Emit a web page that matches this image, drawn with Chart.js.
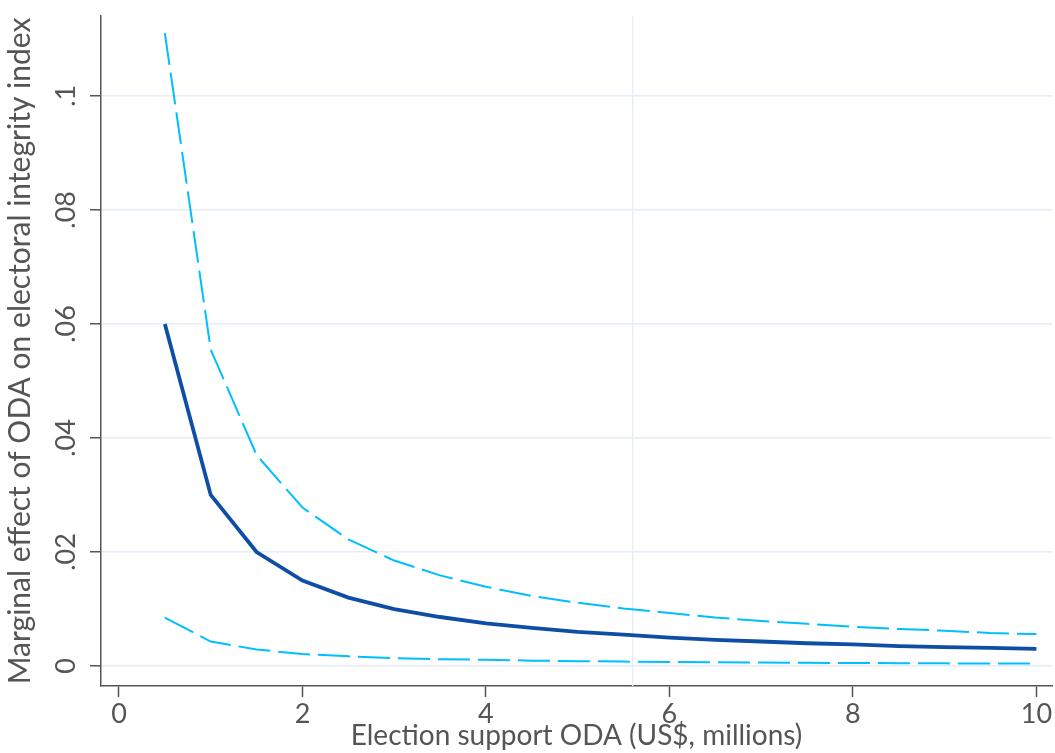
<!DOCTYPE html>
<html>
<head>
<meta charset="utf-8">
<script src="https://cdn.jsdelivr.net/npm/chart.js@4"></script>
<style>
  html, body { margin: 0; padding: 0; background: #fff; }
  #wrap { width: 1055px; height: 753px; }
</style>
</head>
<body>
<div id="wrap"><canvas id="meChart"></canvas></div>
<script>
// Data
const odaX = [0.5, 1, 1.5, 2, 2.5, 3, 3.5, 4, 4.5, 5, 5.5, 6, 6.5, 7, 7.5, 8, 8.5, 9, 9.5, 10];
const effect = [0.06, 0.03, 0.02, 0.015, 0.012, 0.01, 0.0086, 0.0075, 0.0067, 0.006,
  0.0055, 0.005, 0.0046, 0.0043, 0.004, 0.0038, 0.0035, 0.0033, 0.0032, 0.003];
const upperCI = [0.111, 0.0555, 0.037, 0.0278, 0.0222, 0.0185, 0.0159, 0.0139, 0.0123, 0.0111,
  0.0101, 0.0093, 0.0085, 0.0079, 0.0074, 0.0069, 0.0065, 0.0062, 0.0058, 0.0056];
const lowerCI = [0.0085, 0.0043, 0.0029, 0.0021, 0.0017, 0.0014, 0.0012, 0.0011, 0.00095, 0.00085,
  0.00078, 0.00071, 0.00066, 0.00061, 0.00057, 0.00053, 0.0005, 0.00047, 0.00045, 0.00043];
const xTicks = [0, 2, 4, 6, 8, 10];
const yTicks = [0, 0.02, 0.04, 0.06, 0.08, 0.1];
const yTickLabels = ['0', '.02', '.04', '.06', '.08', '.1'];
const refLineX = 5.6;

const axisGray = '#555555';
const gridBlue = '#e5eef8';

const toPoints = arr => arr.map((v, i) => ({ x: odaX[i], y: v }));

// vertical reference line
const refLine = {
  id: 'refLine',
  beforeDatasetsDraw(chart) {
    const { ctx, chartArea, scales } = chart;
    const px = scales.x.getPixelForValue(refLineX);
    ctx.save();
    ctx.strokeStyle = gridBlue;
    ctx.lineWidth = 1.5;
    ctx.beginPath();
    ctx.moveTo(px, chartArea.top);
    ctx.lineTo(px, chartArea.bottom);
    ctx.stroke();
    ctx.restore();
  }
};

new Chart(document.getElementById('meChart'), {
  type: 'line',
  data: {
    datasets: [{
      label: 'Upper',
      data: toPoints(upperCI),
      borderColor: '#00bfff',
      borderWidth: 2,
      borderDash: [32, 8],
      pointRadius: 0,
      tension: 0
    }, {
      label: 'Marginal effect',
      data: toPoints(effect),
      borderColor: '#0e4fa5',
      borderWidth: 3.8,
      pointRadius: 0,
      tension: 0
    }, {
      label: 'Lower',
      data: toPoints(lowerCI),
      borderColor: '#00bfff',
      borderWidth: 2,
      borderDash: [32, 8],
      pointRadius: 0,
      tension: 0
    }]
  },
  options: {
    responsive: true,
    maintainAspectRatio: false,
    animation: false,
    layout: { padding: { top: 16, right: 3, left: 0, bottom: 0 } },
    plugins: {
      legend: { display: false },
      tooltip: { enabled: false }
    },
    scales: {
      x: {
        type: 'linear',
        min: -0.196,
        max: 10.17,
        afterBuildTicks: s => { s.ticks = xTicks.map(v => ({ value: v })); },
        afterFit: s => { s.height = 67; s.paddingLeft = 0; s.paddingRight = 0; },
        grid: { drawOnChartArea: false, drawTicks: true, tickLength: 11, tickColor: axisGray, tickWidth: 1.5 },
        border: { display: true, color: axisGray, width: 1.5 },
        ticks: {
          color: axisGray,
          font: { family: 'Lato', size: 27 },
          padding: 1,
          maxRotation: 0,
          callback: v => String(v)
        },
        title: {
          display: true,
          text: 'Election support ODA (US$, millions)',
          color: axisGray,
          font: { family: 'Lato', size: 28 },
          padding: { top: 0, bottom: 0 }
        }
      },
      y: {
        type: 'linear',
        min: -0.0035,
        max: 0.114,
        afterBuildTicks: s => { s.ticks = yTicks.map(v => ({ value: v })); },
        afterFit: s => { s.width = 101; s.paddingTop = 0; s.paddingBottom = 0; },
        grid: { color: gridBlue, lineWidth: 1.5, drawTicks: true, tickLength: 11, tickColor: axisGray, tickWidth: 1.5 },
        border: { display: true, color: axisGray, width: 1.5 },
        ticks: {
          color: axisGray,
          font: { family: 'Lato', size: 27 },
          padding: 5,
          minRotation: 90,
          maxRotation: 90,
          crossAlign: 'center',
          callback: v => {
            const i = yTicks.indexOf(v);
            return i >= 0 ? yTickLabels[i] : '';
          }
        },
        title: {
          display: true,
          text: 'Marginal effect of ODA on electoral integrity index',
          color: axisGray,
          font: { family: 'Lato', size: 30 },
          padding: { top: 2, bottom: 0 }
        }
      }
    }
  },
  plugins: [refLine]
});
</script>
</body>
</html>
